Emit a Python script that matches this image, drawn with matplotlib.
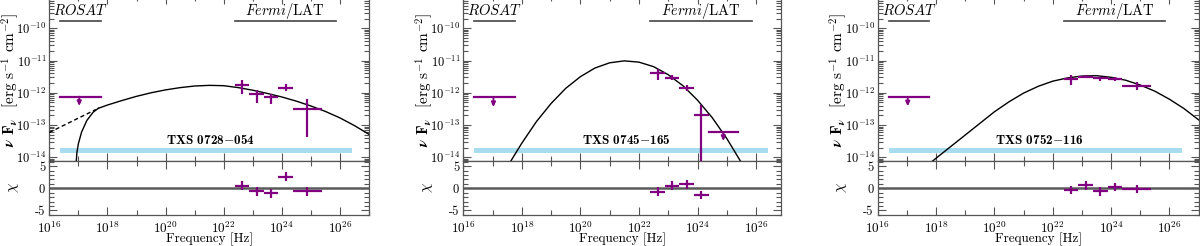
import numpy as np
import matplotlib
matplotlib.use("Agg")
import matplotlib.pyplot as plt
from matplotlib.ticker import FixedLocator, NullFormatter, LogLocator, FuncFormatter, MultipleLocator

plt.rcParams.update({
    "font.family": "serif",
    "font.serif": ["cmr10", "DejaVu Serif"],
    "mathtext.fontset": "cm",
    "axes.formatter.use_mathtext": True,
    "axes.unicode_minus": False,
    "font.size": 9.5,
})

# ---------------- data ----------------
source_names = ["TXS 0728$-$054", "TXS 0745$-$165", "TXS 0752$-$116"]
freq_max = [1e27, 10**26.85, 1e27]
rosat_range = [2.4e16, 5.8e17]
fermi_range = [2.4e22, 7.3e25]
band_range = [2.4e16, 2.6e26]
band_flux = [1.35e-14, 1.9e-14]

rosat_ul_freq = 1.07e17
rosat_ul_flux = [7.6e-13, 7.4e-13, 7.5e-13]
rosat_ul_tip = [3.9e-13, 3.6e-13, 3.8e-13]

fermi_edges = [2.4e22, 7.6e22, 2.4e23, 7.6e23, 2.4e24, 2.4e25]
fermi_freq = [4.3e22, 1.35e23, 4.3e23, 1.35e24, 7.6e24]

# panel 1
p1_flux = [1.74e-12, 9.3e-13, 7.2e-13, 1.45e-12, 3.1e-13]
p1_hi = [2.5e-12, 1.23e-12, 9.3e-13, 1.9e-12, 6.3e-13]
p1_lo = [9.3e-13, 4.8e-13, 4.6e-13, 1.1e-12, 4.3e-14]
p1_chi = [0.6, -0.7, -1.1, 2.6, -0.7]
# panel 2 (last bin is an upper limit)
p2_flux = [4.0e-12, 2.9e-12, 1.4e-12, 2.1e-13]
p2_hi = [5.4e-12, 3.55e-12, 1.74e-12, 4.1e-13]
p2_lo = [2.5e-12, 2.5e-12, 1.17e-12, 5e-15]
p2_chi = [-0.8, 0.6, 0.9, -1.5]
p2_ul_flux = 6.0e-14
p2_ul_tip = 3.2e-14
# panel 3
p3_flux = [2.63e-12, 3.16e-12, 2.82e-12, 2.69e-12, 1.66e-12]
p3_hi = [3.55e-12, 3.55e-12, 3.16e-12, 3.0e-12, 2.1e-12]
p3_lo = [1.74e-12, 2.82e-12, 2.4e-12, 2.34e-12, 1.26e-12]
p3_chi = [-0.4, 0.7, -0.7, 0.3, -0.15]

# model curves (log10 frequency, log10 flux)
m1_logx = [17.69, 18.0, 18.5, 19.0, 19.5, 20.0, 20.5, 21.0, 21.5, 22.0, 22.5,
           23.0, 23.5, 24.0, 24.5, 25.0, 25.5, 26.0, 26.5, 27.0]
m1_logy = [-12.48, -12.38, -12.24, -12.11, -12.00, -11.91, -11.84, -11.79, -11.77,
           -11.78, -11.84, -11.92, -12.02, -12.13, -12.26, -12.41, -12.58, -12.78,
           -13.02, -13.29]
m1abs_logx = [16.92, 16.95, 17.0, 17.11, 17.29, 17.51, 17.69]
m1abs_logy = [-14.2, -13.85, -13.58, -13.22, -12.86, -12.60, -12.48]
m1dash_logx = [16.0, 17.6]
m1dash_logy = [-13.23, -12.52]

m2_logx = [17.6, 18.0, 18.5, 19.0, 19.5, 20.0, 20.5, 21.0, 21.5, 22.0, 22.5,
           23.0, 23.5, 24.0, 24.5, 25.0, 25.5]
m2_logy = [-14.15, -13.56, -12.89, -12.33, -11.86, -11.50, -11.23, -11.07, -11.01,
           -11.05, -11.19, -11.44, -11.78, -12.23, -12.77, -13.42, -14.17]

m3_logx = [17.85, 18.0, 18.5, 19.0, 19.5, 20.0, 20.5, 21.0, 21.5, 22.0, 22.5,
           23.0, 23.5, 24.0, 24.5, 25.0, 25.5, 26.0, 26.5, 27.0]
m3_logy = [-14.14, -14.03, -13.67, -13.31, -12.95, -12.59, -12.28, -12.01, -11.80,
           -11.64, -11.54, -11.48, -11.47, -11.52, -11.61, -11.76, -11.95, -12.20,
           -12.49, -12.84]

y_major = [1e-14, 1e-13, 1e-12, 1e-11, 1e-10]

# ---------------- layout ----------------
W, H = 1200, 246
fig = plt.figure(figsize=(W / 100, H / 100), dpi=100)

panel_px = [(49.3, 369.1), (463.3, 781.0), (877.7, 1198.6)]
main_top, main_bot, res_bot = -3.95, 160.5, 214.8

PURPLE = "#800080"
SPINE = "#555555"
BAND = "#a8dcee"


def rect(x0, x1, ytop, ybot):
    return [x0 / W, 1 - ybot / H, (x1 - x0) / W, (ybot - ytop) / H]


def style(ax):
    for s in ax.spines.values():
        s.set_color(SPINE)
        s.set_linewidth(0.9)
    ax.tick_params(which="both", direction="in", top=True, right=True,
                   color=SPINE, labelcolor="black", width=0.8)
    ax.tick_params(which="major", length=5.5)
    ax.tick_params(which="minor", length=3.5)


panels = [
    dict(flux=p1_flux, hi=p1_hi, lo=p1_lo, chi=p1_chi, n=5,
         mx=m1_logx, my=m1_logy),
    dict(flux=p2_flux, hi=p2_hi, lo=p2_lo, chi=p2_chi, n=4,
         mx=m2_logx, my=m2_logy),
    dict(flux=p3_flux, hi=p3_hi, lo=p3_lo, chi=p3_chi, n=5,
         mx=m3_logx, my=m3_logy),
]

xmaj = [1e16, 1e18, 1e20, 1e22, 1e24, 1e26]
xmin = [1e17, 1e19, 1e21, 1e23, 1e25, 1e27]
ARROW = "-|>,head_width=0.13,head_length=0.28"

for i, p in enumerate(panels):
    x0, x1 = panel_px[i]
    ax = fig.add_axes(rect(x0, x1, main_top, main_bot))
    axr = fig.add_axes(rect(x0, x1, main_bot, res_bot), sharex=ax)
    ax.set_xscale("log")
    ax.set_yscale("log")
    ax.set_xlim(1e16, freq_max[i])
    ax.set_ylim(10**-14.1, 1e-9)
    axr.set_ylim(-6.0, 6.3)

    n = p["n"]
    fx = np.array(fermi_freq[:n])
    xlo = fx - np.array(fermi_edges[:n])
    xhi = np.array(fermi_edges[1:n + 1]) - fx
    fy = np.array(p["flux"])
    ylo = fy - np.array(p["lo"])
    yhi = np.array(p["hi"]) - fy

    # background band
    ax.fill_between(band_range, band_flux[0], band_flux[1], color=BAND, lw=0, zorder=1)
    ax.text(10**21.55, 10**-13.47, source_names[i], family="cmb10",
            ha="center", va="center", fontsize=9.5, zorder=3)

    # instrument ranges
    ax.plot(rosat_range, [1.73e-10] * 2, color="#444444", lw=1.2)
    ax.plot(fermi_range, [1.73e-10] * 2, color="#444444", lw=1.2)
    ax.text(np.sqrt(rosat_range[0] * rosat_range[1]), 10**-9.45, r"$\mathit{ROSAT}$",
            ha="center", va="center", fontsize=10.5)
    ax.text(np.sqrt(fermi_range[0] * fermi_range[1]), 10**-9.45,
            r"$\mathit{Fermi}/\mathrm{LAT}$", ha="center", va="center", fontsize=10.5)

    # model
    ax.plot(10 ** np.array(p["mx"]), 10 ** np.array(p["my"]), color="black", lw=1.0, zorder=4)
    if i == 0:
        ax.plot(10 ** np.array(m1abs_logx), 10 ** np.array(m1abs_logy), color="black", lw=1.0, zorder=4)
        ax.plot(10 ** np.array(m1dash_logx), 10 ** np.array(m1dash_logy), color="black",
                lw=1.0, ls=(0, (3, 2)), zorder=4)

    # ROSAT upper limit
    ax.plot(rosat_range, [rosat_ul_flux[i]] * 2, color=PURPLE, lw=1.6, zorder=5)
    ax.annotate("", xy=(rosat_ul_freq, rosat_ul_tip[i]), xytext=(rosat_ul_freq, rosat_ul_flux[i]),
                arrowprops=dict(arrowstyle=ARROW, color=PURPLE, lw=1.3, shrinkA=0, shrinkB=0),
                zorder=5)

    # Fermi points
    ax.errorbar(fx, fy, xerr=[xlo, xhi], yerr=[ylo, yhi], fmt="none",
                ecolor=PURPLE, elinewidth=1.6, capsize=0, zorder=5)
    if i == 1:
        ulx = fermi_freq[4]
        ax.plot([fermi_edges[4], fermi_edges[5]], [p2_ul_flux] * 2, color=PURPLE, lw=1.6, zorder=5)
        ax.annotate("", xy=(ulx, p2_ul_tip), xytext=(ulx, p2_ul_flux),
                    arrowprops=dict(arrowstyle=ARROW, color=PURPLE, lw=1.3, shrinkA=0, shrinkB=0),
                    zorder=5)

    # residuals
    axr.axhline(0, color="#5a5a5a", lw=1.8, zorder=2)
    axr.errorbar(fx, p["chi"], xerr=[xlo, xhi], yerr=np.ones(n), fmt="none",
                 ecolor=PURPLE, elinewidth=1.6, capsize=0, zorder=5)

    # ticks
    for a in (ax, axr):
        a.xaxis.set_major_locator(FixedLocator(xmaj))
        a.xaxis.set_minor_locator(FixedLocator(xmin))
        a.xaxis.set_minor_formatter(NullFormatter())
        style(a)
    ax.tick_params(labelbottom=False)
    ax.yaxis.set_major_locator(FixedLocator(y_major))
    ax.yaxis.set_minor_locator(LogLocator(base=10, subs=np.arange(2, 10), numticks=20))
    ax.yaxis.set_minor_formatter(NullFormatter())
    ax.tick_params(axis="y", which="major", pad=2, labelsize=9)

    axr.yaxis.set_major_locator(FixedLocator([-5, 0, 5]))
    axr.yaxis.set_minor_locator(MultipleLocator(1))
    axr.yaxis.set_major_formatter(FuncFormatter(lambda v, pos: "%d" % v))
    axr.tick_params(axis="y", which="major", pad=3, labelsize=9)
    axr.tick_params(axis="x", which="major", pad=4)

    ax.set_ylabel(r"$\boldsymbol{\nu}$ $\mathbf{F}_{\boldsymbol{\nu}}$  [erg s$^{-1}$ cm$^{-2}$]",
                  fontsize=11)
    ax.yaxis.set_label_coords(-0.088, 0.49)
    axr.set_ylabel(r"$\chi$", fontsize=11)
    axr.yaxis.set_label_coords(-0.088, 0.5)
    axr.set_xlabel("Frequency [Hz]", fontsize=9.5)
    axr.xaxis.set_label_coords(0.5, -0.33)

fig.savefig("out.png", dpi=100)
